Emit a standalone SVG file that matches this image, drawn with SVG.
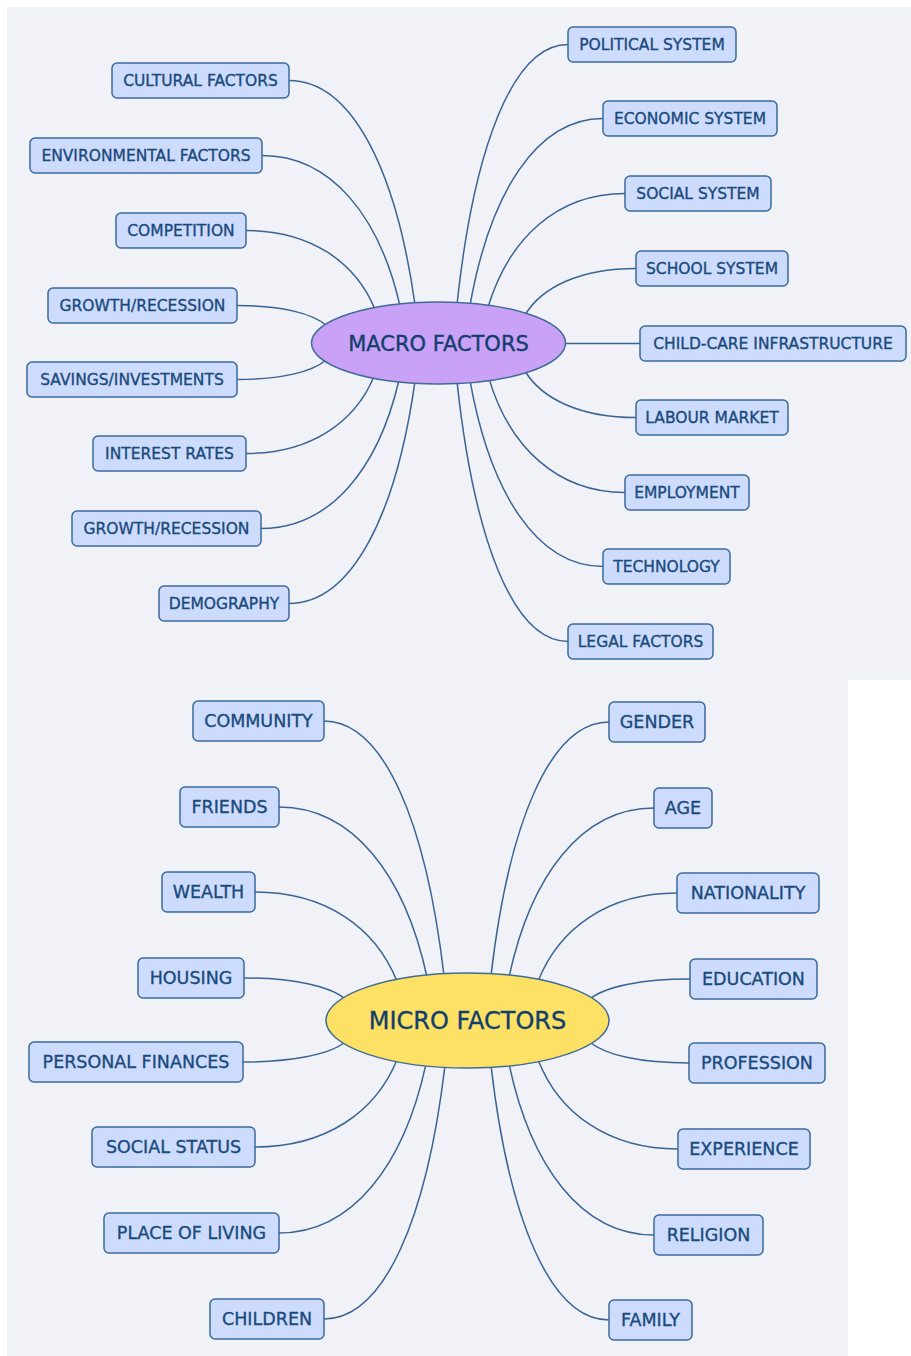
<svg xmlns="http://www.w3.org/2000/svg" width="911" height="1356" viewBox="0 0 911 1356">
<style>
.bg{fill:#f0f2f7}
.box{fill:#cddcfd;stroke:#3b6a9c;stroke-width:1.5}
.t{font-family:"DejaVu Sans","Liberation Sans",sans-serif;fill:#1a4a7c;stroke:#1a4a7c;stroke-width:0.35;text-anchor:middle}
.s{font-size:15.5px}
.m{font-size:17.5px}
.c{fill:none;stroke:#3a6494;stroke-width:1.5}
.ell{stroke:#3f6b96;stroke-width:1.5}
</style>
<rect width="911" height="1356" fill="#ffffff"/>
<rect class="bg" x="7" y="7" width="904" height="673"/>
<rect class="bg" x="7" y="680" width="841" height="676"/>
<g id="connectors">
<path class="c" d="M289,80.5 C352,80.5 396.1,170.2 415,304.7"/>
<path class="c" d="M262,155.5 C331,155.5 379.3,215.7 400,305.9"/>
<path class="c" d="M246,230.5 C310.5,230.5 355.7,262.1 375,309.5"/>
<path class="c" d="M237,305.5 C282,305.5 313.5,313.7 327,326"/>
<path class="c" d="M237,379.5 C281.5,379.5 312.7,371.7 326,360"/>
<path class="c" d="M246,453.5 C310,453.5 354.8,422.7 374,376.5"/>
<path class="c" d="M261,528.5 C330,528.5 378.3,469.1 399,380"/>
<path class="c" d="M289,603.5 C352,603.5 396.1,514.6 415,381.3"/>
<path class="c" d="M568,44.5 C512.5,44.5 473.7,148.5 457,304.4"/>
<path class="c" d="M603,118.5 C536.5,118.5 490,193.2 470,305.3"/>
<path class="c" d="M625,193.5 C556.5,193.5 508.6,239 488,307.2"/>
<path class="c" d="M636,268.5 C580.5,268.5 541.7,287.1 525,315"/>
<path class="c" d="M560,343.5 H640"/>
<path class="c" d="M636,417.5 C580.5,417.5 541.7,398.9 525,371"/>
<path class="c" d="M625,492.5 C557,492.5 509.4,446.9 489,378.6"/>
<path class="c" d="M603,566.5 C536.5,566.5 490,492.2 470,380.7"/>
<path class="c" d="M568,641.5 C512.5,641.5 473.7,537.5 457,381.4"/>
<path class="c" d="M324,721 C384,721 426,822.9 444,975.7"/>
<path class="c" d="M279,807 C353,807 404.8,875 427,977"/>
<path class="c" d="M255,892 C326,892 375.7,927.7 397,981.3"/>
<path class="c" d="M244,978 C294.5,978 329.9,986.3 345,998.75"/>
<path class="c" d="M243,1062 C294,1062 329.7,1054.1 345,1042.25"/>
<path class="c" d="M255,1147 C326,1147 375.7,1112.1 397,1059.7"/>
<path class="c" d="M279,1233 C352.5,1233 404,1165.4 426,1063.9"/>
<path class="c" d="M324,1319 C384.5,1319 426.9,1217.5 445,1065.3"/>
<path class="c" d="M609,722 C550,722 508.7,823.5 491,975.7"/>
<path class="c" d="M654,808 C581.5,808 530.8,875.6 509,977.1"/>
<path class="c" d="M677,893 C607.5,893 558.9,928.3 538,981.3"/>
<path class="c" d="M690,979 C640,979 605,986.9 590,998.75"/>
<path class="c" d="M689,1063 C639.5,1063 604.9,1054.7 590,1042.25"/>
<path class="c" d="M678,1149 C608,1149 559,1113.3 538,1059.7"/>
<path class="c" d="M654,1235 C581.5,1235 530.8,1166.6 509,1063.9"/>
<path class="c" d="M609,1320 C550,1320 508.7,1218.1 491,1065.3"/>
</g>
<g id="macro">
<ellipse class="ell" cx="438.5" cy="343" rx="127" ry="41" fill="#c9a2f7"/>
<text class="t" x="438.5" y="350.6" style="font-size:21px;fill:#123e6c;stroke:#123e6c">MACRO FACTORS</text>
</g>
<g id="micro">
<ellipse class="ell" cx="467.5" cy="1020.5" rx="141.5" ry="47.5" fill="#fde164"/>
<text class="t" x="467.5" y="1029.2" style="font-size:24px;fill:#123e6c;stroke:#123e6c">MICRO FACTORS</text>
</g>
<g id="cultural"><rect class="box" x="112" y="63" width="177" height="35" rx="5"/><text class="t s" x="200.5" y="86">CULTURAL FACTORS</text></g>
<g id="environmental"><rect class="box" x="30" y="138" width="232" height="35" rx="5"/><text class="t s" x="146" y="161">ENVIRONMENTAL FACTORS</text></g>
<g id="competition"><rect class="box" x="116" y="213" width="130" height="35" rx="5"/><text class="t s" x="181" y="236">COMPETITION</text></g>
<g id="growth1"><rect class="box" x="48" y="288" width="189" height="35" rx="5"/><text class="t s" x="142.5" y="311">GROWTH/RECESSION</text></g>
<g id="savings"><rect class="box" x="27" y="362" width="210" height="35" rx="5"/><text class="t s" x="132" y="385">SAVINGS/INVESTMENTS</text></g>
<g id="interest"><rect class="box" x="93" y="436" width="153" height="35" rx="5"/><text class="t s" x="169.5" y="459">INTEREST RATES</text></g>
<g id="growth2"><rect class="box" x="72" y="511" width="189" height="35" rx="5"/><text class="t s" x="166.5" y="534">GROWTH/RECESSION</text></g>
<g id="demography"><rect class="box" x="159" y="586" width="130" height="35" rx="5"/><text class="t s" x="224" y="609">DEMOGRAPHY</text></g>
<g id="political"><rect class="box" x="568" y="27" width="168" height="35" rx="5"/><text class="t s" x="652" y="50">POLITICAL SYSTEM</text></g>
<g id="economic"><rect class="box" x="603" y="101" width="174" height="35" rx="5"/><text class="t s" x="690" y="124">ECONOMIC SYSTEM</text></g>
<g id="social"><rect class="box" x="625" y="176" width="146" height="35" rx="5"/><text class="t s" x="698" y="199">SOCIAL SYSTEM</text></g>
<g id="school"><rect class="box" x="636" y="251" width="152" height="35" rx="5"/><text class="t s" x="712" y="274">SCHOOL SYSTEM</text></g>
<g id="childcare"><rect class="box" x="640" y="326" width="266" height="35" rx="5"/><text class="t s" x="773" y="349">CHILD-CARE INFRASTRUCTURE</text></g>
<g id="labour"><rect class="box" x="636" y="400" width="152" height="35" rx="5"/><text class="t s" x="712" y="423">LABOUR MARKET</text></g>
<g id="employment"><rect class="box" x="625" y="475" width="124" height="35" rx="5"/><text class="t s" x="687" y="498">EMPLOYMENT</text></g>
<g id="technology"><rect class="box" x="603" y="549" width="127" height="35" rx="5"/><text class="t s" x="666.5" y="572">TECHNOLOGY</text></g>
<g id="legal"><rect class="box" x="568" y="624" width="145" height="35" rx="5"/><text class="t s" x="640.5" y="647">LEGAL FACTORS</text></g>
<g id="community"><rect class="box" x="193" y="701" width="131" height="40" rx="5"/><text class="t m" x="258.5" y="727.3">COMMUNITY</text></g>
<g id="friends"><rect class="box" x="180" y="787" width="99" height="40" rx="5"/><text class="t m" x="229.5" y="813.3">FRIENDS</text></g>
<g id="wealth"><rect class="box" x="162" y="872" width="93" height="40" rx="5"/><text class="t m" x="208.5" y="898.3">WEALTH</text></g>
<g id="housing"><rect class="box" x="138" y="958" width="106" height="40" rx="5"/><text class="t m" x="191" y="984.3">HOUSING</text></g>
<g id="finances"><rect class="box" x="29" y="1042" width="214" height="40" rx="5"/><text class="t m" x="136" y="1068.3">PERSONAL FINANCES</text></g>
<g id="status"><rect class="box" x="92" y="1127" width="163" height="40" rx="5"/><text class="t m" x="173.5" y="1153.3">SOCIAL STATUS</text></g>
<g id="place"><rect class="box" x="104" y="1213" width="175" height="40" rx="5"/><text class="t m" x="191.5" y="1239.3">PLACE OF LIVING</text></g>
<g id="children"><rect class="box" x="210" y="1299" width="114" height="40" rx="5"/><text class="t m" x="267" y="1325.3">CHILDREN</text></g>
<g id="gender"><rect class="box" x="609" y="702" width="96" height="40" rx="5"/><text class="t m" x="657" y="728.3">GENDER</text></g>
<g id="age"><rect class="box" x="654" y="788" width="58" height="40" rx="5"/><text class="t m" x="683" y="814.3">AGE</text></g>
<g id="nationality"><rect class="box" x="677" y="873" width="142" height="40" rx="5"/><text class="t m" x="748" y="899.3">NATIONALITY</text></g>
<g id="education"><rect class="box" x="690" y="959" width="127" height="40" rx="5"/><text class="t m" x="753.5" y="985.3">EDUCATION</text></g>
<g id="profession"><rect class="box" x="689" y="1043" width="136" height="40" rx="5"/><text class="t m" x="757" y="1069.3">PROFESSION</text></g>
<g id="experience"><rect class="box" x="678" y="1129" width="132" height="40" rx="5"/><text class="t m" x="744" y="1155.3">EXPERIENCE</text></g>
<g id="religion"><rect class="box" x="654" y="1215" width="109" height="40" rx="5"/><text class="t m" x="708.5" y="1241.3">RELIGION</text></g>
<g id="family"><rect class="box" x="609" y="1300" width="83" height="40" rx="5"/><text class="t m" x="650.5" y="1326.3">FAMILY</text></g>
</svg>
